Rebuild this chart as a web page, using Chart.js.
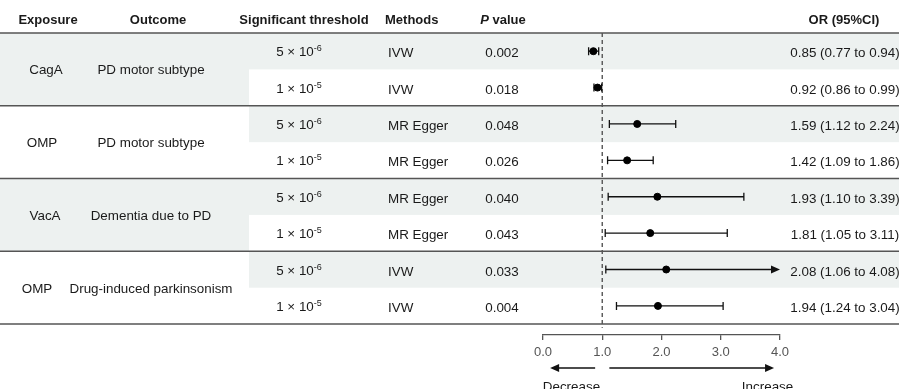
<!DOCTYPE html>
<html lang="en">

<head>
    <meta charset="UTF-8">
    <title>Forest plot</title>
    <script src="https://cdn.jsdelivr.net/npm/chart.js"></script>
    <style>
        body {
            margin: 0;
            background: #fff;
            overflow: hidden;
        }

        #wrap {
            position: relative;
            width: 899px;
            height: 389px;
            overflow: hidden;
            font-family: "Liberation Sans", Arial, sans-serif;
            font-size: 13.4px;
            color: #1a1a1a;
        }

        #forest {
            position: absolute;
            left: 0;
            top: 0;
        }

        .cell {
            position: absolute;
            white-space: nowrap;
            line-height: 15px;
            transform: translate(-50%, -50%);
        }

        .left {
            transform: translate(0, -50%);
        }

        .head {
            font-weight: bold;
            font-size: 13px;
        }

        .sup {
            font-size: 9px;
            position: relative;
            top: -5px;
        }
    </style>
</head>

<body>
    <div id="wrap">
        <canvas id="forest" width="899" height="389"></canvas>
    </div>

    <script>
        // table data
        const exposures = ['CagA', 'OMP', 'VacA', 'OMP'];
        const outcomes = ['PD motor subtype', 'PD motor subtype', 'Dementia due to PD', 'Drug-induced parkinsonism'];
        const thresholdBase = ['5', '1', '5', '1', '5', '1', '5', '1'];
        const thresholdExp = ['-6', '-5', '-6', '-5', '-6', '-5', '-6', '-5'];
        const methods = ['IVW', 'IVW', 'MR Egger', 'MR Egger', 'MR Egger', 'MR Egger', 'IVW', 'IVW'];
        const pValues = ['0.002', '0.018', '0.048', '0.026', '0.040', '0.043', '0.033', '0.004'];

        // odds ratios and 95% CI
        const orValues = [0.85, 0.92, 1.59, 1.42, 1.93, 1.81, 2.08, 1.94];
        const ciLower = [0.77, 0.86, 1.12, 1.09, 1.10, 1.05, 1.06, 1.24];
        const ciUpper = [0.94, 0.99, 2.24, 1.86, 3.39, 3.11, 4.08, 3.04];

        const xTicks = [0, 1, 2, 3, 4];
        const nullValue = 1;
        const decreaseArrow = [0.88, 0.12];
        const increaseArrow = [1.12, 3.9];

        const FONT = '"Liberation Sans", Arial, sans-serif';
        const GRAY = '#edf1f0';
        const LINE = '#555';
        const SPLIT_X = 249;

        // gray bands and group separators
        const tableBg = {
            id: 'tableBg',
            beforeDraw(chart) {
                const ctx = chart.ctx;
                const y = chart.scales.y;
                const w = chart.width;
                ctx.save();
                ctx.fillStyle = GRAY;
                exposures.forEach((_, g) => {
                    const top = y.getPixelForValue(2 * g - 0.5);
                    const mid = y.getPixelForValue(2 * g + 0.5);
                    const bot = y.getPixelForValue(2 * g + 1.5);
                    if (g % 2 === 0) ctx.fillRect(0, top, SPLIT_X, bot - top);
                    ctx.fillRect(SPLIT_X, top, w - SPLIT_X, mid - top);
                });
                ctx.strokeStyle = LINE;
                ctx.lineWidth = 1.5;
                const lines = [-0.5];
                exposures.forEach((_, g) => lines.push(2 * g + 1.5));
                lines.forEach(v => {
                    const p = y.getPixelForValue(v);
                    ctx.beginPath();
                    ctx.moveTo(0, p);
                    ctx.lineTo(w, p);
                    ctx.stroke();
                });
                // reference line at OR = 1
                const xr = chart.scales.x.getPixelForValue(nullValue);
                ctx.setLineDash([4, 3]);
                ctx.lineWidth = 1.4;
                ctx.beginPath();
                ctx.moveTo(xr, y.getPixelForValue(-0.5));
                ctx.lineTo(xr, y.getPixelForValue(7.6));
                ctx.stroke();
                ctx.restore();
            }
        };

        function arrowHead(ctx, tipX, yy, dir) {
            ctx.beginPath();
            ctx.moveTo(tipX, yy);
            ctx.lineTo(tipX - dir * 9, yy - 4);
            ctx.lineTo(tipX - dir * 9, yy + 4);
            ctx.closePath();
            ctx.fill();
        }

        // CI whiskers
        const errorBars = {
            id: 'errorBars',
            beforeDatasetsDraw(chart) {
                const ctx = chart.ctx;
                const x = chart.scales.x;
                const y = chart.scales.y;
                ctx.save();
                ctx.strokeStyle = '#111';
                ctx.fillStyle = '#111';
                ctx.lineWidth = 1.3;
                orValues.forEach((_, i) => {
                    const yy = y.getPixelForValue(i);
                    const x0 = x.getPixelForValue(ciLower[i]);
                    const clipped = ciUpper[i] > x.max;
                    const x1 = x.getPixelForValue(Math.min(ciUpper[i], x.max));
                    ctx.beginPath();
                    ctx.moveTo(x0, yy);
                    ctx.lineTo(clipped ? x1 - 8 : x1, yy);
                    ctx.moveTo(x0, yy - 4);
                    ctx.lineTo(x0, yy + 4);
                    if (!clipped) {
                        ctx.moveTo(x1, yy - 4);
                        ctx.lineTo(x1, yy + 4);
                    }
                    ctx.stroke();
                    if (clipped) arrowHead(ctx, x1, yy, 1);
                });
                ctx.restore();
            },
            afterDraw(chart) {
                const ctx = chart.ctx;
                const x = chart.scales.x;
                const yy = 368;
                ctx.save();
                ctx.strokeStyle = '#111';
                ctx.fillStyle = '#111';
                ctx.lineWidth = 1.5;
                [decreaseArrow, increaseArrow].forEach(a => {
                    const s = x.getPixelForValue(a[0]);
                    const e = x.getPixelForValue(a[1]);
                    const dir = e > s ? 1 : -1;
                    ctx.beginPath();
                    ctx.moveTo(s, yy);
                    ctx.lineTo(e - dir * 8, yy);
                    ctx.stroke();
                    arrowHead(ctx, e, yy, dir);
                });
                ctx.restore();
            }
        };

        const canvas = document.getElementById('forest');
        const chart = new Chart(canvas.getContext('2d'), {
            type: 'scatter',
            data: {
                datasets: [{
                    data: orValues.map((v, i) => ({ x: v, y: i })),
                    backgroundColor: '#000',
                    borderColor: '#000',
                    pointRadius: 3.5,
                    pointHoverRadius: 3.5
                }]
            },
            options: {
                responsive: false,
                animation: false,
                devicePixelRatio: 1,
                layout: { padding: { left: 543, right: 119, top: 33, bottom: 24 } },
                plugins: {
                    legend: { display: false },
                    tooltip: { enabled: false }
                },
                scales: {
                    x: {
                        type: 'linear',
                        min: xTicks[0],
                        max: xTicks[xTicks.length - 1],
                        afterBuildTicks: s => { s.ticks = xTicks.map(v => ({ value: v })); },
                        afterFit: s => { s.height = 30; },
                        ticks: {
                            callback: v => v.toFixed(1),
                            color: '#555',
                            padding: 5,
                            maxRotation: 0,
                            font: { family: FONT, size: 13 }
                        },
                        grid: { drawOnChartArea: false, tickLength: 5, color: LINE, lineWidth: 1.3 },
                        border: { display: true, color: LINE, width: 1.3 }
                    },
                    y: {
                        type: 'linear',
                        reverse: true,
                        min: -0.5,
                        max: 7.8,
                        display: false
                    }
                }
            },
            plugins: [tableBg, errorBars]
        });

        // table text, placed on the same rows as the chart
        const wrap = document.getElementById('wrap');
        const ys = chart.scales.y;
        const xs = chart.scales.x;

        function addCell(html, x, y, cls) {
            const d = document.createElement('div');
            d.className = 'cell ' + (cls || '');
            d.innerHTML = html;
            d.style.left = x + 'px';
            d.style.top = y + 'px';
            wrap.appendChild(d);
        }

        const headY = 19;
        addCell('Exposure', 48, headY, 'head');
        addCell('Outcome', 158, headY, 'head');
        addCell('Significant threshold', 304, headY, 'head');
        addCell('Methods', 385, headY, 'head left');
        addCell('<i>P</i> value', 503, headY, 'head');
        addCell('OR (95%CI)', 844, headY, 'head');

        const exposureX = [46, 42, 45, 37];
        exposures.forEach((e, g) => {
            const gy = ys.getPixelForValue(2 * g + 0.5);
            addCell(e, exposureX[g], gy);
            addCell(outcomes[g], 151, gy);
        });

        orValues.forEach((v, i) => {
            const ry = ys.getPixelForValue(i) + 1;
            addCell(thresholdBase[i] + ' &times; 10<span class="sup">' + thresholdExp[i] + '</span>', 299, ry);
            addCell(methods[i], 388, ry, 'left');
            addCell(pValues[i], 502, ry);
            addCell(v.toFixed(2) + ' (' + ciLower[i].toFixed(2) + ' to ' + ciUpper[i].toFixed(2) + ')', 845, ry);
        });

        addCell('Decrease', xs.getPixelForValue(0.48), 386);
        addCell('Increase', xs.getPixelForValue(3.79), 386);
    </script>

</body>

</html>
